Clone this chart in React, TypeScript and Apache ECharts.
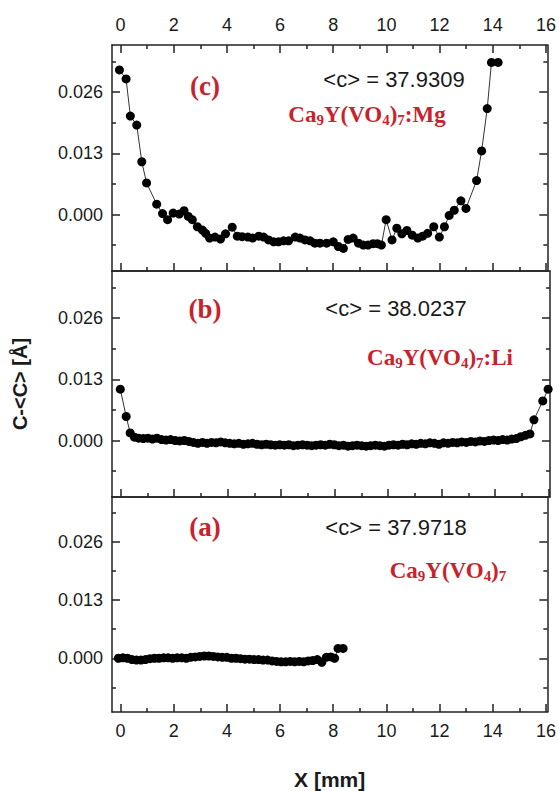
import React, { useEffect, useRef } from "react";
import * as echarts from "echarts";

const xMajorTicks = [0, 2, 4, 6, 8, 10, 12, 14, 16];
const xMinorTicks = [1, 3, 5, 7, 9, 11, 13, 15];
const yMajorTicks = [0, 0.013, 0.026];
const yMinorTicks = [-0.0065, 0.0065, 0.0195, 0.0325];

// Panel (c) Ca9Y(VO4)7:Mg
const panelC: [number, number][] = [
  [-0.04, 0.0307], [0.21, 0.0288], [0.37, 0.0209], [0.61, 0.019], [0.8, 0.0112],
  [0.98, 0.0067], [1.36, 0.0022], [1.58, 0.0002], [1.77, -0.0011], [1.98, 0.0003],
  [2.21, 0.0001], [2.39, 0.0008], [2.55, -0.0004], [2.7, -0.0011], [2.89, -0.0026],
  [3.08, -0.0033], [3.2, -0.004], [3.35, -0.005], [3.55, -0.0048], [3.76, -0.0052],
  [3.95, -0.0041], [4.2, -0.0027], [4.39, -0.0046], [4.57, -0.0047], [4.79, -0.0048],
  [4.97, -0.005], [5.2, -0.0046], [5.38, -0.0048], [5.57, -0.0054], [5.76, -0.0058],
  [5.94, -0.0058], [6.13, -0.0056], [6.32, -0.0056], [6.57, -0.0048], [6.75, -0.005],
  [6.94, -0.0054], [7.13, -0.0056], [7.31, -0.0061], [7.5, -0.0061], [7.75, -0.0061],
  [8.0, -0.0058], [8.19, -0.0068], [8.38, -0.0072], [8.56, -0.0053], [8.75, -0.005],
  [8.95, -0.0061], [9.13, -0.0065], [9.31, -0.0065], [9.5, -0.0062], [9.66, -0.0062],
  [9.81, -0.0065], [9.99, -0.0011], [10.21, -0.0054], [10.39, -0.0029], [10.58, -0.0041],
  [10.77, -0.0034], [10.97, -0.0044], [11.18, -0.005], [11.36, -0.0046], [11.55, -0.004],
  [11.78, -0.0026], [11.99, -0.0048], [12.18, -0.0026], [12.36, -0.0002], [12.55, 0.0009],
  [12.8, 0.0029], [12.99, 0.0013], [13.39, 0.0072], [13.58, 0.0135], [13.79, 0.0225],
  [13.95, 0.0323], [14.2, 0.0323],
];

// Panel (b) Ca9Y(VO4)7:Li
const panelB: [number, number][] = [
  [-0.01, 0.0109], [0.21, 0.0051], [0.36, 0.0016], [0.52, 0.0007], [0.68, 0.0005],
  [0.85, 0.0004], [1.02, 0.0005], [1.19, 0.0003], [1.36, 0.0005], [1.53, 0.0002],
  [1.7, 0.0001], [1.87, 0.0002], [2.04, 0.0], [2.21, -0.0001], [2.38, 0.0],
  [2.55, -0.0002], [2.72, -0.0004], [2.89, -0.0006], [3.06, -0.0004], [3.23, -0.0006],
  [3.4, -0.0004], [3.57, -0.0005], [3.74, -0.0003], [3.91, -0.0005], [4.08, -0.0006],
  [4.25, -0.0007], [4.42, -0.0006], [4.59, -0.0008], [4.76, -0.0007], [4.93, -0.0006],
  [5.1, -0.0008], [5.27, -0.0009], [5.44, -0.0008], [5.61, -0.0009], [5.78, -0.001],
  [5.95, -0.0009], [6.12, -0.001], [6.29, -0.0009], [6.46, -0.0011], [6.63, -0.001],
  [6.8, -0.0009], [6.97, -0.001], [7.14, -0.0011], [7.31, -0.001], [7.48, -0.0009],
  [7.65, -0.001], [7.82, -0.0008], [7.99, -0.0009], [8.16, -0.0011], [8.33, -0.001],
  [8.5, -0.0012], [8.67, -0.0011], [8.84, -0.001], [9.01, -0.0011], [9.18, -0.0012],
  [9.35, -0.0011], [9.52, -0.001], [9.69, -0.0011], [9.86, -0.0012], [10.03, -0.001],
  [10.2, -0.0009], [10.37, -0.001], [10.54, -0.0008], [10.71, -0.0009], [10.88, -0.0007],
  [11.05, -0.0008], [11.22, -0.0006], [11.39, -0.0007], [11.56, -0.0005], [11.73, -0.0006],
  [11.9, -0.0008], [12.07, -0.0005], [12.24, -0.0006], [12.41, -0.0004], [12.58, -0.0005],
  [12.75, -0.0003], [12.92, -0.0004], [13.09, -0.0002], [13.26, -0.0003], [13.43, -0.0001],
  [13.6, -0.0002], [13.77, 0.0], [13.94, 0.0001], [14.11, 0.0], [14.28, 0.0002],
  [14.45, 0.0001], [14.62, 0.0003], [14.79, 0.0004], [14.96, 0.0008], [15.13, 0.0011],
  [15.3, 0.0014], [15.45, 0.0044], [15.78, 0.0084], [15.98, 0.0109],
];

// Panel (a) Ca9Y(VO4)7
const panelA: [number, number][] = [
  [-0.08, 0.0], [0.09, 0.0001], [0.26, 0.0], [0.43, -0.0003], [0.6, -0.0004],
  [0.77, -0.0004], [0.94, -0.0003], [1.11, -0.0001], [1.28, 0.0], [1.45, 0.0],
  [1.62, 0.0001], [1.79, 0.0001], [1.96, 0.0], [2.13, 0.0001], [2.3, 0.0001],
  [2.47, 0.0], [2.64, 0.0002], [2.81, 0.0003], [2.98, 0.0004], [3.15, 0.0005],
  [3.32, 0.0005], [3.49, 0.0004], [3.66, 0.0003], [3.83, 0.0002], [4.0, 0.0002],
  [4.17, 0.0], [4.34, 0.0], [4.51, -0.0001], [4.68, -0.0002], [4.85, -0.0002],
  [5.02, -0.0003], [5.19, -0.0003], [5.36, -0.0004], [5.53, -0.0004], [5.7, -0.0006],
  [5.87, -0.0007], [6.04, -0.0008], [6.21, -0.0008], [6.38, -0.0007], [6.55, -0.0008],
  [6.72, -0.0007], [6.89, -0.0008], [7.06, -0.0006], [7.23, -0.0005], [7.4, -0.0003],
  [7.57, -0.0009], [7.74, 0.0002], [7.91, 0.0003], [8.05, 0.0], [8.18, 0.0022],
  [8.37, 0.0022],
];

const panels = [panelC, panelB, panelA];
const panelLabels = ["(c)", "(b)", "(a)"];
const meanLabels = ["<c> = 37.9309", "<c> = 38.0237", "<c> = 37.9718"];
const formulas = [
  "{m|Ca}{s|9}{m|Y(VO}{s|4}{m|)}{s|7}{m|:Mg}",
  "{m|Ca}{s|9}{m|Y(VO}{s|4}{m|)}{s|7}{m|:Li}",
  "{m|Ca}{s|9}{m|Y(VO}{s|4}{m|)}{s|7}",
];

const GRID_TOPS = [45, 271, 497];
const GRID_H = 226;
const SANS = '"Liberation Sans", Arial, sans-serif';
const SERIF = '"Liberation Serif", "Times New Roman", serif';
const RED = "#c8232c";
const AXIS = "#222";

export default function App() {
  const ref = useRef<HTMLDivElement>(null);
  useEffect(() => {
    if (!ref.current) return;
    const chart = echarts.init(ref.current, undefined, { renderer: "svg" });
    const xMin = -0.32;
    const xMax = 16.05;
    const yMin = -0.012;
    const yMax = 0.036;
    const grids: any[] = [];
    const xAxes: any[] = [];
    const yAxes: any[] = [];
    const series: any[] = [];
    const graphics: any[] = [];
    const lbl = { color: "#1a1a1a", fontSize: 18, fontFamily: SANS };
    const tickStyle = { color: AXIS, width: 1.5 };
    for (let i = 0; i < 3; i++) {
      grids.push({ left: 112, right: 9, top: GRID_TOPS[i], height: GRID_H });
      const baseX = {
        type: "value",
        gridIndex: i,
        min: xMin,
        max: xMax,
        splitLine: { show: false },
      };
      const topTicks = i === 0;
      xAxes.push({
        ...baseX,
        position: "bottom",
        axisLine: { show: true, onZero: false, lineStyle: tickStyle },
        axisTick: { show: true, inside: true, length: 8, customValues: xMajorTicks, lineStyle: tickStyle },
        axisLabel: { show: i === 2, customValues: xMajorTicks, margin: 10, ...lbl },
        name: i === 2 ? "X [mm]" : "",
        nameLocation: "middle",
        nameGap: 57,
        nameTextStyle: { fontSize: 21, fontWeight: "bold", fontFamily: SANS, color: "#1a1a1a" },
      });
      xAxes.push({
        ...baseX,
        position: "top",
        axisLine: { show: true, onZero: false, lineStyle: tickStyle },
        axisTick: { show: topTicks, inside: true, length: 8, customValues: xMajorTicks, lineStyle: tickStyle },
        axisLabel: { show: i === 0, customValues: xMajorTicks, margin: 11, ...lbl },
      });
      xAxes.push({
        ...baseX,
        position: "bottom",
        axisLine: { show: false, onZero: false },
        axisTick: { show: true, inside: true, length: 4, customValues: xMinorTicks, lineStyle: tickStyle },
        axisLabel: { show: false },
      });
      xAxes.push({
        ...baseX,
        position: "top",
        axisLine: { show: false, onZero: false },
        axisTick: { show: topTicks, inside: true, length: 4, customValues: xMinorTicks, lineStyle: tickStyle },
        axisLabel: { show: false },
      });
      const baseY = {
        type: "value",
        gridIndex: i,
        min: yMin,
        max: yMax,
        splitLine: { show: false },
      };
      yAxes.push({
        ...baseY,
        position: "left",
        axisLine: { show: true, onZero: false, lineStyle: tickStyle },
        axisTick: { show: true, inside: true, length: 8, customValues: yMajorTicks, lineStyle: tickStyle },
        axisLabel: {
          show: true,
          customValues: yMajorTicks,
          margin: 9,
          formatter: (v: number) => v.toFixed(3),
          ...lbl,
        },
        name: i === 1 ? "C-<C> [Å]" : "",
        nameLocation: "middle",
        nameGap: 82,
        nameTextStyle: { fontSize: 20, fontWeight: "bold", fontFamily: SANS, color: "#1a1a1a" },
      });
      yAxes.push({
        ...baseY,
        position: "right",
        axisLine: { show: true, onZero: false, lineStyle: tickStyle },
        axisTick: { show: true, inside: true, length: 8, customValues: yMajorTicks, lineStyle: tickStyle },
        axisLabel: { show: false },
      });
      yAxes.push({
        ...baseY,
        position: "left",
        axisLine: { show: false, onZero: false },
        axisTick: { show: true, inside: true, length: 4, customValues: yMinorTicks, lineStyle: tickStyle },
        axisLabel: { show: false },
      });
      yAxes.push({
        ...baseY,
        position: "right",
        axisLine: { show: false, onZero: false },
        axisTick: { show: true, inside: true, length: 4, customValues: yMinorTicks, lineStyle: tickStyle },
        axisLabel: { show: false },
      });
      series.push({
        type: "line",
        xAxisIndex: i * 4,
        yAxisIndex: i * 4,
        data: panels[i],
        symbol: "circle",
        symbolSize: 9,
        showSymbol: true,
        itemStyle: { color: "#000" },
        lineStyle: { color: "#333", width: 1 },
        clip: false,
      });
    }
    const labelPos = [
      { p: [205, 86], m: [394, 79], f: [367, 114] },
      { p: [205, 309], m: [396, 308], f: [440, 357] },
      { p: [205, 527], m: [396, 527], f: [448, 570] },
    ];
    for (let i = 0; i < 3; i++) {
      const lp = labelPos[i];
      graphics.push({
        type: "text",
        x: lp.p[0],
        y: lp.p[1],
        style: {
          text: panelLabels[i],
          fill: RED,
          font: `bold 27px ${SERIF}`,
          align: "center",
          verticalAlign: "middle",
        },
      });
      graphics.push({
        type: "text",
        x: lp.m[0],
        y: lp.m[1],
        style: {
          text: meanLabels[i],
          fill: "#1a1a1a",
          font: `22px ${SANS}`,
          align: "center",
          verticalAlign: "middle",
        },
      });
      graphics.push({
        type: "text",
        x: lp.f[0],
        y: lp.f[1],
        style: {
          text: formulas[i],
          align: "center",
          verticalAlign: "middle",
          rich: {
            m: { fill: RED, fontSize: 23, fontWeight: "bold", fontFamily: SERIF, color: RED },
            s: { fill: RED, fontSize: 15, fontWeight: "bold", fontFamily: SERIF, color: RED, padding: [12, 0, 0, 0] },
          },
        },
      });
    }
    chart.setOption({
      animation: false,
      backgroundColor: "#fff",
      grid: grids,
      xAxis: xAxes,
      yAxis: yAxes,
      series,
      graphic: graphics,
    });
    return () => chart.dispose();
  }, []);
  return (
    <div
      ref={ref}
      style={{ position: "fixed", left: 0, top: 0, width: 559, height: 791 }}
    />
  );
}
